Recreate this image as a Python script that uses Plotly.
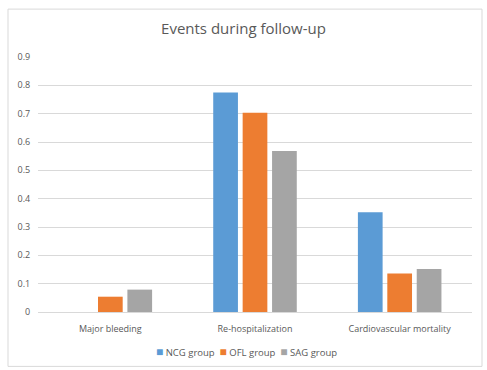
import plotly.graph_objects as go

categories = ["Major bleeding", "Re-hospitalization", "Cardiovascular mortality"]
ncg_values = [0, 0.775, 0.352]
ofl_values = [0.054, 0.703, 0.136]
sag_values = [0.079, 0.568, 0.152]
series_names = ["NCG group", "OFL group", "SAG group"]
colors = ["#5B9BD5", "#ED7D31", "#A5A5A5"]
y_ticks = [0, 0.1, 0.2, 0.3, 0.4, 0.5, 0.6, 0.7, 0.8, 0.9]
y_tick_labels = ["0", "0.1", "0.2", "0.3", "0.4", "0.5", "0.6", "0.7", "0.8", "0.9"]

W, H = 487, 370
L, R, T, B = 38, 15, 57, 57.5
pw = W - L - R
ph = H - T - B

fig = go.Figure()
for name, vals, c in zip(series_names, [ncg_values, ofl_values, sag_values], colors):
    fig.add_trace(go.Bar(x=categories, y=vals, name=name, showlegend=False,
                         marker=dict(color=c, line=dict(width=0))))

font_family = "Open Sans, Liberation Sans, sans-serif"
fig.update_layout(
    width=W, height=H,
    margin=dict(l=L, r=R, t=T, b=B, pad=0),
    paper_bgcolor="white", plot_bgcolor="white",
    barmode="group", bargap=0.39, bargroupgap=0.16,
    title=dict(text="Events during follow-up", x=0.5, xanchor="center",
               y=1 - 29 / H, yanchor="middle",
               font=dict(family=font_family, size=15, color="#595959")),
    font=dict(family=font_family, size=9, color="#595959"),
    xaxis=dict(showgrid=False, showline=False, automargin=False,
               ticks="outside", ticklen=8, tickcolor="rgba(0,0,0,0)",
               tickfont=dict(size=9, color="#595959")),
    yaxis=dict(range=[0, 0.9], tickvals=y_ticks, ticktext=y_tick_labels, automargin=False,
               showgrid=True, gridcolor="#D9D9D9", gridwidth=1, zeroline=True,
               zerolinecolor="#D9D9D9", zerolinewidth=1, showline=False,
               ticks="outside", ticklen=5, tickcolor="rgba(0,0,0,0)",
               tickfont=dict(size=9, color="#595959")),
    showlegend=False,
)

# legend drawn as a text line built from the series names and colours
legend_text = "&nbsp;&nbsp;".join(
    f"<span style='color:{c};font-size:12px'>■</span>&nbsp;{n}" for n, c in zip(series_names, colors)
)
fig.add_annotation(text=legend_text, xref="paper", yref="paper",
                   x=(246 - L) / pw, y=-(352 - (H - B)) / ph,
                   xanchor="center", yanchor="middle", showarrow=False,
                   font=dict(family=font_family, size=9.5, color="#595959"))

# outer chart border
fig.add_shape(type="rect", xref="paper", yref="paper",
              x0=(8 - L) / pw, x1=(482 - L) / pw,
              y0=-(367 - (H - B)) / ph, y1=((H - B) - 9) / ph,
              line=dict(color="#D9D9D9", width=1), fillcolor="rgba(0,0,0,0)", layer="below")

fig.write_html("out.html", config={"displayModeBar": False},
               post_script="document.body.style.margin='0';document.body.style.overflow='hidden';")
